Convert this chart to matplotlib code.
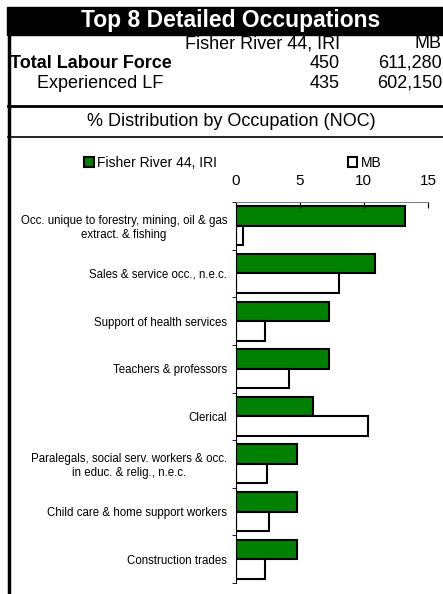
import matplotlib.pyplot as plt
from matplotlib.patches import Rectangle
from matplotlib.lines import Line2D
import numpy as np

plt.rcParams['font.family'] = ['Liberation Sans', 'DejaVu Sans']

# data
occupations = ["Occ. unique to forestry, mining, oil & gas\nextract. & fishing",
               "Sales & service occ., n.e.c.",
               "Support of health services",
               "Teachers & professors",
               "Clerical",
               "Paralegals, social serv. workers & occ.\nin educ. & relig., n.e.c.",
               "Child care & home support workers",
               "Construction trades"]
fisher = [13.2, 10.9, 7.3, 7.3, 6.0, 4.8, 4.8, 4.8]
mb = [0.6, 8.1, 2.3, 4.2, 10.3, 2.45, 2.6, 2.3]
region_name = "Fisher River 44, IRI"
prov_name = "MB"
total_lf = ["450", "611,280"]
exp_lf = ["435", "602,150"]
xticks = [0, 5, 10, 15]

W, H = 443, 594
fig = plt.figure(figsize=(W / 100, H / 100), dpi=100)


def fx(px):
    return px / W


def fy(py):
    return 1 - py / H


# header band
fig.patches.append(Rectangle((fx(7), fy(35)), fx(445) - fx(7), fy(7) - fy(35),
                             transform=fig.transFigure, color='black', zorder=0))
fig.text(fx(231), fy(21), "Top 8 Detailed Occupations", color='white', fontsize=16.5,
         fontweight='bold', ha='center', va='center')

# header rows
fig.text(fx(340), fy(44), region_name, fontsize=13, ha='right', va='center')
fig.text(fx(442), fy(44), prov_name, fontsize=13, ha='right', va='center')
fig.text(fx(10), fy(63), "Total Labour Force", fontsize=13, fontweight='bold', ha='left', va='center')
fig.text(fx(340), fy(63), total_lf[0], fontsize=13, ha='right', va='center')
fig.text(fx(442), fy(63), total_lf[1], fontsize=13, ha='right', va='center')
fig.text(fx(37), fy(83), "Experienced LF", fontsize=13, ha='left', va='center')
fig.text(fx(340), fy(83), exp_lf[0], fontsize=13, ha='right', va='center')
fig.text(fx(442), fy(83), exp_lf[1], fontsize=13, ha='right', va='center')
fig.text(fx(231), fy(121), "% Distribution by Occupation (NOC)", fontsize=13, ha='center', va='center')

# frame lines
fig.add_artist(Line2D([fx(8), 1], [fy(106), fy(106)], color='black', lw=2))
fig.add_artist(Line2D([fx(8), 1], [fy(137), fy(137)], color='black', lw=1.2))
fig.add_artist(Line2D([fx(9), fx(9)], [fy(34), 0], color='black', lw=2.5))

# chart
ax = fig.add_axes([fx(235.5), fy(583), fx(428) - fx(235.5), fy(202) - fy(583)])
y = np.arange(len(occupations)) + 0.5
h = 0.41
b1 = ax.barh(y - h / 2, fisher, height=h, color='#008000', edgecolor='black', lw=1.5, label=region_name)
b2 = ax.barh(y + h / 2, mb, height=h, color='white', edgecolor='black', lw=1.5, label=prov_name)
ax.set_ylim(len(occupations), 0)
ax.set_xlim(0, 15)

ax.xaxis.tick_top()
ax.set_xticks(xticks)
ax.tick_params(axis='x', direction='in', length=4, pad=10, labelsize=11, color='black')
ax.set_yticks(y)
ax.set_yticklabels(occupations, fontsize=8.3)
for lab in ax.get_yticklabels():
    lab.set_multialignment('center')
ax.tick_params(axis='y', length=0, pad=6)
ax.set_yticks(np.arange(len(occupations) + 1), minor=True)
ax.tick_params(axis='y', which='minor', direction='out', length=3)
ax.spines['right'].set_visible(False)
ax.spines['bottom'].set_visible(False)
ax.spines['top'].set_color('#808080')

fig.legend(handles=[b1, b2], loc='center left', bbox_to_anchor=(fx(84), fy(163)),
           ncol=2, frameon=False, fontsize=10, handlelength=0.7, handleheight=0.7,
           handletextpad=0.25, columnspacing=9.4, borderpad=0, borderaxespad=0)

fig.savefig('out.png', dpi=100)
